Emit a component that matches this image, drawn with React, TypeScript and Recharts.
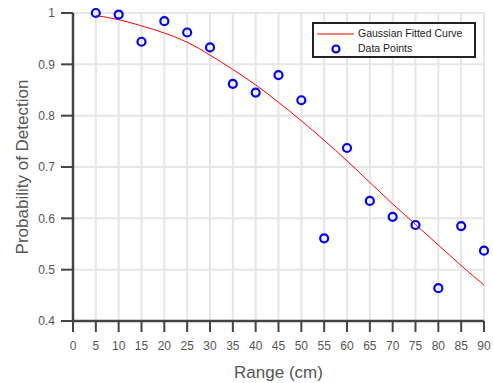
import {
  ComposedChart,
  Line,
  Scatter,
  CartesianGrid,
  XAxis,
  YAxis,
  Legend,
} from "recharts";

// range in cm
const ranges = [5, 10, 15, 20, 25, 30, 35, 40, 45, 50, 55, 60, 65, 70, 75, 80, 85, 90];
// measured detection probability
const measured = [
  1.0, 0.997, 0.944, 0.984, 0.962, 0.933, 0.862, 0.845, 0.879, 0.83, 0.561, 0.737,
  0.634, 0.603, 0.587, 0.464, 0.585, 0.537,
];
// fitted curve
const fitted = [
  0.995, 0.987, 0.975, 0.961, 0.943, 0.918, 0.89, 0.86, 0.826, 0.79, 0.752, 0.712,
  0.67, 0.628, 0.588, 0.548, 0.508, 0.47,
];
const xTicks = [0, 5, 10, 15, 20, 25, 30, 35, 40, 45, 50, 55, 60, 65, 70, 75, 80, 85, 90];
const yTicks = [0.4, 0.5, 0.6, 0.7, 0.8, 0.9, 1];

const rows = ranges.map((r, i) => ({ range: r, measured: measured[i], fitted: fitted[i] }));

const FONT = "'Liberation Sans', Arial, Helvetica, sans-serif";
const AXIS = "#444";

const Ring = (props: any) => {
  const { cx, cy } = props;
  if (cx == null || cy == null) return null;
  return <circle cx={cx} cy={cy} r={4} fill="none" stroke="#0000ff" strokeWidth={2.2} />;
};

const LegendBox = () => (
  <div
    style={{
      border: "2px solid #222",
      background: "#fff",
      width: 160,
      height: 32,
      fontFamily: FONT,
      fontSize: 10.5,
      color: "#222",
      position: "relative",
    }}
  >
    <svg width={160} height={32} style={{ position: "absolute", left: 0, top: 0 }}>
      <line x1={3} y1={10} x2={40} y2={10} stroke="#ff0000" strokeWidth={1} />
      <circle cx={22} cy={25} r={3.5} fill="none" stroke="#0000ff" strokeWidth={2.2} />
    </svg>
    <div style={{ position: "absolute", left: 44, top: 3, whiteSpace: "nowrap" }}>
      Gaussian Fitted Curve
    </div>
    <div style={{ position: "absolute", left: 44, top: 18, whiteSpace: "nowrap" }}>
      Data Points
    </div>
  </div>
);

export default function App() {
  return (
    <div style={{ position: "absolute", left: 0, top: 0, background: "#fff" }}>
      <ComposedChart
        width={493}
        height={383}
        data={rows}
        margin={{ top: 13, right: 9, bottom: 0, left: 0 }}
        style={{ fontFamily: FONT }}
      >
        <CartesianGrid stroke="#e6e6e6" strokeWidth={2} />
        <XAxis
          dataKey="range"
          type="number"
          domain={[0, 90]}
          ticks={xTicks}
          interval={0}
          height={62}
          tickSize={11}
          tickMargin={9}
          stroke={AXIS}
          tickLine={{ stroke: AXIS, strokeWidth: 2 }}
          axisLine={{ stroke: AXIS, strokeWidth: 2.5 }}
          tick={{ fill: "#555", fontSize: 12 }}
          label={{
            value: "Range (cm)",
            position: "insideBottom",
            offset: 5,
            fill: "#555",
            fontSize: 17,
          }}
        />
        <YAxis
          type="number"
          domain={[0.4, 1]}
          ticks={yTicks}
          interval={0}
          width={73}
          tickSize={12}
          tickMargin={6}
          stroke={AXIS}
          tickLine={{ stroke: AXIS, strokeWidth: 2 }}
          axisLine={{ stroke: AXIS, strokeWidth: 2.5 }}
          tick={{ fill: "#555", fontSize: 12 }}
          label={{
            value: "Probability of Detection",
            angle: -90,
            position: "insideLeft",
            dx: 17,
            fill: "#555",
            fontSize: 17,
            style: { textAnchor: "middle" },
          }}
        />
        <Legend
          content={() => <LegendBox />}
          layout="horizontal"
          verticalAlign="middle"
          align="center"
          wrapperStyle={{ left: 312, top: 22, width: 164, height: 36 }}
        />
        <Line
          dataKey="fitted"
          type="monotone"
          stroke="#ff0000"
          strokeWidth={1}
          dot={false}
          activeDot={false}
          isAnimationActive={false}
        />
        <Scatter dataKey="measured" shape={<Ring />} isAnimationActive={false} />
      </ComposedChart>
    </div>
  );
}
